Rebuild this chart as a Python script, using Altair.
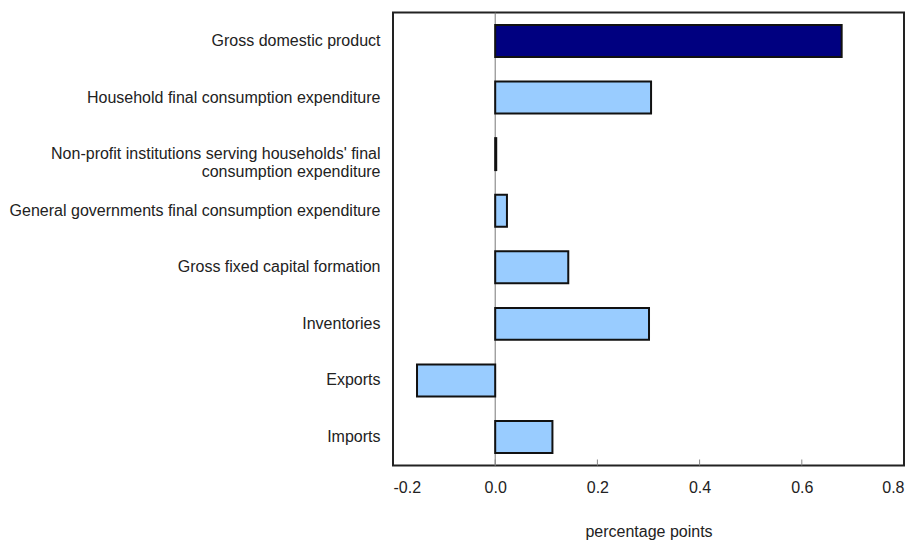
import altair as alt
import pandas as pd

categories = [
    "Gross domestic product",
    "Household final consumption expenditure",
    "Non-profit institutions serving households' final|consumption expenditure",
    "General governments final consumption expenditure",
    "Gross fixed capital formation",
    "Inventories",
    "Exports",
    "Imports",
]
values = [0.678, 0.305, 0.002, 0.023, 0.143, 0.301, -0.153, 0.112]
is_total = [True, False, False, False, False, False, False, False]
tick_values = [-0.2, 0.0, 0.2, 0.4, 0.6, 0.8]

df = pd.DataFrame({"cat": categories, "val": values, "total": is_total})
ticks_df = pd.DataFrame({"t": tick_values[1:-1]})
zero_df = pd.DataFrame({"z": [0.0]})

W, H = 511, 453
xscale = alt.Scale(domain=[-0.2, 0.8], nice=False, zero=False)

bars = alt.Chart(df).mark_bar(stroke="#111111", strokeWidth=2).encode(
    x=alt.X(
        "val:Q",
        scale=xscale,
        axis=alt.Axis(
            values=tick_values,
            labelExpr="datum.value < 0 ? '-' + format(-datum.value, '.1f') : format(datum.value, '.1f')",
            title="percentage points",
            domain=False,
            ticks=False,
            grid=False,
            labelFontSize=16,
            labelPadding=14,
            labelColor="#222222",
            labelFont="Liberation Sans",
            titleFont="Liberation Sans",
            titleFontSize=16,
            titleFontWeight="normal",
            titleColor="#222222",
            titlePadding=28,
        ),
    ),
    y=alt.Y(
        "cat:N",
        sort=categories,
        scale=alt.Scale(paddingInner=0.435, paddingOuter=0.22),
        axis=alt.Axis(
            title=None,
            domain=False,
            ticks=False,
            grid=False,
            labelFontSize=16,
            labelPadding=13,
            labelLimit=0,
            labelColor="#222222",
            labelFont="Liberation Sans",
            labelLineHeight=18,
            labelExpr="split(datum.label, '|')",
        ),
    ),
    color=alt.Color(
        "total:N",
        scale=alt.Scale(domain=[True, False], range=["#000080", "#99CCFF"]),
        legend=None,
    ),
)

zero = alt.Chart(zero_df).mark_rule(color="#777777", strokeWidth=1).encode(
    x=alt.X("z:Q", scale=xscale)
)

tks = alt.Chart(ticks_df).mark_rule(color="#888888", strokeWidth=1).encode(
    x=alt.X("t:Q", scale=xscale),
    y=alt.value(H - 6),
    y2=alt.value(H),
)

chart = (
    alt.layer(zero, bars, tks)
    .properties(
        width=W,
        height=H,
        background="white",
        autosize=alt.AutoSizeParams(type="none"),
        padding={"left": 385, "top": 4.5, "right": 2, "bottom": 80},
    )
    .configure_view(stroke="#222222", strokeWidth=2)
)

chart.save("out.html", embed_options={"renderer": "svg", "actions": False})
